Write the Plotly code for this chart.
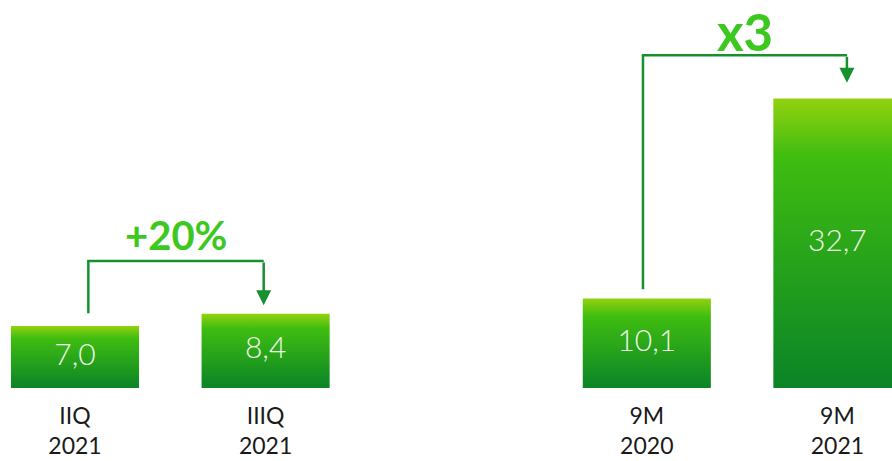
import plotly.graph_objects as go

# ---- data ----
categories = ["IIQ<br>2021", "IIIQ<br>2021", "9M<br>2020", "9M<br>2021"]
positions = [0, 1, 3, 4]
values = [7.0, 8.4, 10.1, 32.7]
growth_labels = ["+20%", "x3"]
growth_pairs = [(0, 1), (2, 3)]

# ---- style ----
BAR_W = 0.672
GRAD = [[0.0, "#0A8427"], [0.8, "#3FBD10"], [1.0, "#93D10F"]]
LINE_C = "#17912E"
LABEL_C = "#3CC81E"
FONT = "Lato"

fig = go.Figure()

# gradient bars (filled polygons on data axes)
for x, v in zip(positions, values):
    x0, x1 = x - BAR_W / 2, x + BAR_W / 2
    fig.add_trace(go.Scatter(
        x=[x0, x0, x1, x1, x0], y=[0, v, v, 0, 0],
        mode="lines", fill="toself", line=dict(width=0),
        fillgradient=dict(type="vertical", colorscale=GRAD),
        hoverinfo="skip", showlegend=False))

# value labels
fig.add_trace(go.Scatter(
    x=positions, y=[v / 2 for v in values],
    mode="text", text=[f"{v:.1f}".replace(".", ",") for v in values],
    textfont=dict(family=FONT, size=30, color="#EEF8E8", weight=300),
    hoverinfo="skip", showlegend=False))

# brackets with arrows
bracket_cfg = [
    dict(dx0=0.07, dx1=-0.01, gap0=1.45, top=14.35, tip_gap=0.95,
         label=dict(yref="y", y=17.3, yanchor="middle"), size=40),
    dict(dx0=-0.02, dx1=0.05, gap0=1.05, top=37.6, tip_gap=1.8,
         label=dict(yref="paper", y=1.0, yanchor="top"), size=51),
]
for (i, j), lab, cfg in zip(growth_pairs, growth_labels, bracket_cfg):
    xa = positions[i] + cfg["dx0"]
    xb = positions[j] + cfg["dx1"]
    ya = values[i] + cfg["gap0"]
    yt = cfg["top"]
    tip = values[j] + cfg["tip_gap"]
    fig.add_trace(go.Scatter(
        x=[xa, xa, xb], y=[ya, yt, yt], mode="lines",
        line=dict(color=LINE_C, width=2.5), hoverinfo="skip", showlegend=False))
    fig.add_annotation(
        x=xb, y=tip, ax=xb, ay=yt, xref="x", yref="y", axref="x", ayref="y",
        showarrow=True, arrowhead=2, arrowsize=1.2, arrowwidth=2.5,
        arrowcolor=LINE_C, text="")
    fig.add_annotation(
        x=(xa + xb) / 2, xref="x", showarrow=False, borderpad=0,
        text=f"<b>{lab}</b>",
        font=dict(family=FONT, size=cfg["size"], color=LABEL_C, weight=900),
        **cfg["label"])

fig.update_layout(
    width=892, height=461,
    margin=dict(l=0, r=0, t=0, b=73),
    paper_bgcolor="white", plot_bgcolor="white",
    xaxis=dict(range=[-0.3935, 4.2865], tickvals=positions, ticktext=categories,
               showgrid=False, zeroline=False, showline=False, ticks="",
               ticklabelstandoff=12,
               tickfont=dict(family=FONT, size=23, color="#1A1A1A"), fixedrange=True),
    yaxis=dict(range=[0, 43.84], visible=False, showgrid=False, zeroline=False,
               fixedrange=True),
)

fig.write_html(
    "out.html",
    config={"displayModeBar": False},
    post_script="document.body.style.margin='0';document.body.style.overflow='hidden';",
)
